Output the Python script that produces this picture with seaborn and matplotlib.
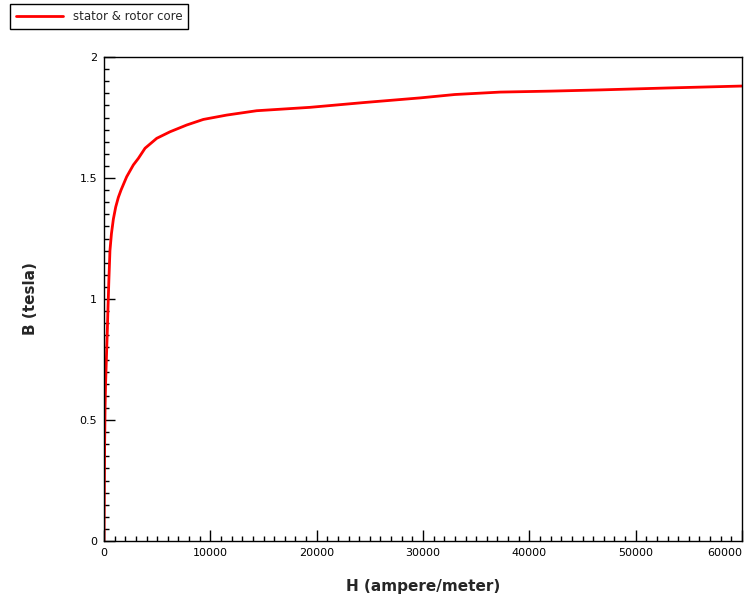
import matplotlib
matplotlib.use("Agg")
import matplotlib.pyplot as plt
import seaborn as sns
import pandas as pd
from matplotlib.ticker import MultipleLocator
from matplotlib.lines import Line2D

H = [0, 30, 60, 100, 150, 200, 260, 320, 380, 460, 560, 700, 880, 1100, 1350,
     1600, 2130, 2760, 3230, 3860, 4960, 6210, 7780, 9340, 11540, 14360, 19380,
     24500, 29730, 33000, 37250, 42000, 46660, 53000, 60000]
B = [0, 0.2, 0.4, 0.55, 0.65, 0.72, 0.8, 0.88, 0.97, 1.08, 1.2, 1.27, 1.33, 1.38,
     1.42, 1.45, 1.505, 1.554, 1.581, 1.623, 1.664, 1.691, 1.719, 1.742, 1.760,
     1.778, 1.792, 1.812, 1.831, 1.845, 1.855, 1.859, 1.864, 1.872, 1.88]
x_ticks = [0, 10000, 20000, 30000, 40000, 50000, 60000]
y_ticks = [0, 0.5, 1, 1.5, 2]
series_name = "stator & rotor core"

df = pd.DataFrame({"H": H, "B": B, "series": series_name})

sns.set_style("ticks")
plt.rcParams['font.family'] = ['DejaVu Sans']

fig = plt.figure(figsize=(7.56, 6.05), dpi=100)
ax = fig.add_axes([104/756, 1-541/605, (742-104)/756, (541-57)/605])

sns.lineplot(data=df, x="H", y="B", hue="series", palette=["#ff0000"],
             linewidth=2, ax=ax, legend=False, estimator=None, sort=False)

ax.set_xticks(x_ticks, [str(v) for v in x_ticks])
ax.set_yticks(y_ticks, [f"{v:g}" for v in y_ticks])
ax.xaxis.set_minor_locator(MultipleLocator(1000))
ax.yaxis.set_minor_locator(MultipleLocator(0.05))
ax.tick_params(which="major", direction="in", length=8, width=1, labelsize=8,
               pad=5, colors="black")
ax.tick_params(which="minor", direction="in", length=3.5, width=1, colors="black")
ax.set_xlim(0, 60000)
ax.set_ylim(0, 2)
for s in ax.spines.values():
    s.set_visible(True)
    s.set_linewidth(1)
    s.set_color("black")

ax.get_xticklabels()[-1].set_horizontalalignment("right")

ax.set_xlabel("H (ampere/meter)", fontsize=11, fontweight="bold", labelpad=15)
ax.set_ylabel("B (tesla)", fontsize=11, fontweight="bold", labelpad=30)

handle = Line2D([], [], color="#ff0000", linewidth=2)
leg = fig.legend([handle], [series_name], loc="upper left",
                 bbox_to_anchor=(10/756, 1-4/605), fancybox=False,
                 edgecolor="black", framealpha=1, fontsize=8.5,
                 handlelength=4.0, borderpad=0.5, borderaxespad=0)
leg.get_frame().set_linewidth(1)

fig.savefig("out.png", dpi=100)
